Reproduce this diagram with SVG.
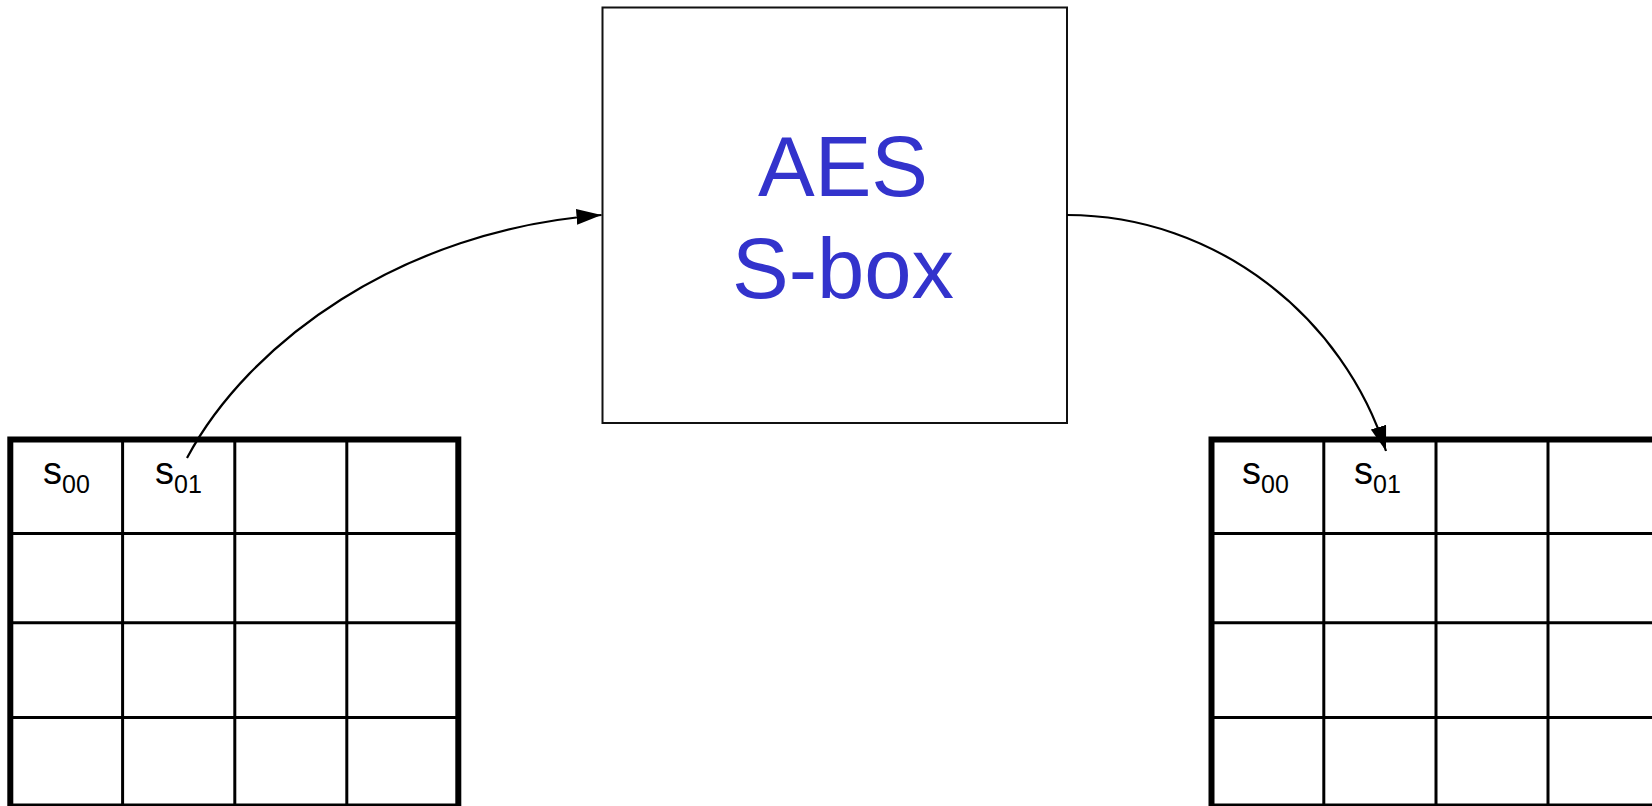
<svg xmlns="http://www.w3.org/2000/svg" width="1652" height="806" viewBox="0 0 1652 806">
  <style>
    .frame { fill: none; stroke: #000; stroke-width: 6; }
    .cell { stroke: #000; stroke-width: 3; fill: none; }
    .box { fill: #fff; stroke: #111; stroke-width: 2; }
    .title { font-family: "Liberation Sans", Arial, sans-serif; font-size: 85px; fill: #3333cc; text-anchor: middle; }
    .s { font-family: "Liberation Sans", Arial, sans-serif; font-size: 38px; fill: #000; }
    .sub { font-family: "Liberation Sans", Arial, sans-serif; font-size: 25px; fill: #000; }
    .link { fill: none; stroke: #000; stroke-width: 2.2; }
  </style>
  <defs>
    <marker id="arrow" markerUnits="userSpaceOnUse" markerWidth="26" markerHeight="18" refX="25" refY="8" orient="auto">
      <path d="M0,0 L25,8 L0,16 Z" fill="#000"/>
    </marker>
    <!-- 4x4 state matrix, drawn at origin -->
    <g id="state-grid">
      <line class="cell" x1="112.3" y1="0" x2="112.3" y2="367"/>
      <line class="cell" x1="224.5" y1="0" x2="224.5" y2="367"/>
      <line class="cell" x1="336.5" y1="0" x2="336.5" y2="367"/>
      <line class="cell" x1="0" y1="94" x2="448" y2="94"/>
      <line class="cell" x1="0" y1="183.3" x2="448" y2="183.3"/>
      <line class="cell" x1="0" y1="278" x2="448" y2="278"/>
      <rect class="frame" x="0" y="0" width="448" height="367"/>
    </g>
  </defs>

  <rect width="1652" height="806" fill="#fff"/>

  <!-- input state -->
  <g id="state-in">
    <use href="#state-grid" x="10.3" y="439.5"/>
    <text class="s" x="43" y="484">s</text>
    <text class="sub" x="62" y="493">00</text>
    <text class="s" x="155" y="484">s</text>
    <text class="sub" x="174" y="493">01</text>
  </g>

  <!-- output state -->
  <g id="state-out">
    <use href="#state-grid" x="1211.5" y="439.5"/>
    <text class="s" x="1242" y="484">s</text>
    <text class="sub" x="1261" y="493">00</text>
    <text class="s" x="1354" y="484">s</text>
    <text class="sub" x="1373" y="493">01</text>
  </g>

  <!-- substitution box -->
  <g id="sbox">
    <rect class="box" x="602.5" y="7.5" width="464.5" height="415.5"/>
    <text class="title" x="843" y="196">AES</text>
    <text class="title" x="843" y="298">S-box</text>
  </g>

  <g id="connectors">
    <path class="link" d="M187,458 C248,343.6 400,230 601.5,215" marker-end="url(#arrow)"/>
    <path class="link" d="M1067,215 C1217,215 1344,318 1386,451" marker-end="url(#arrow)"/>
  </g>
</svg>
